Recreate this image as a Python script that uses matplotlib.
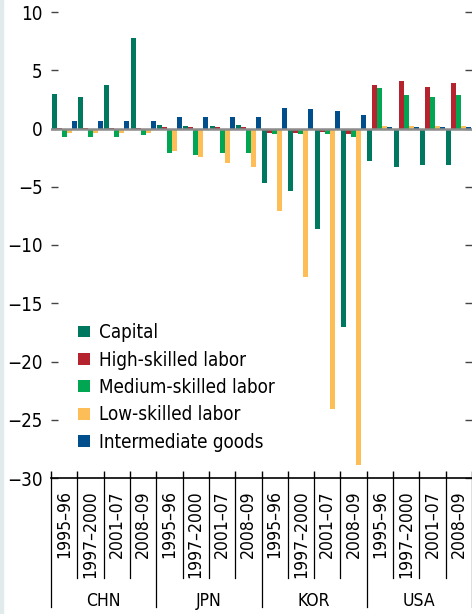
import matplotlib
matplotlib.use('Agg')
import matplotlib.pyplot as plt
import numpy as np
from matplotlib import font_manager as fm
from matplotlib.patches import Rectangle

# pick a narrow sans if one is installed
names = {f.name for f in fm.fontManager.ttflist}
stretches = {(f.name, str(f.stretch)) for f in fm.fontManager.ttflist}
if 'Liberation Sans Narrow' in names:
    fam, stretch, k = 'Liberation Sans Narrow', 'normal', 1.0
elif ('DejaVu Sans', 'condensed') in stretches or ('DejaVu Sans', '300') in stretches:
    fam, stretch, k = 'DejaVu Sans', 'condensed', 0.9
else:
    fam, stretch, k = 'Liberation Sans', 'normal', 0.86
plt.rcParams['font.family'] = [fam, 'DejaVu Sans']
plt.rcParams['font.stretch'] = stretch

countries = ['CHN', 'JPN', 'KOR', 'USA']
periods = ['1995–96', '1997–2000', '2001–07', '2008–09']
series = ['Capital', 'High-skilled labor', 'Medium-skilled labor',
          'Low-skilled labor', 'Intermediate goods']
colors = ['#00775F', '#B5232F', '#00A651', '#FDBE57', '#004F8C']

# values per country, in period order
capital = [3.0, 2.7, 3.7, 7.8,
           0.3, 0.2, 0.2, 0.3,
           -4.7, -5.4, -8.6, -17.0,
           -2.8, -3.3, -3.1, -3.1]
high = [0.05, 0.05, 0.05, 0.05,
        0.1, 0.1, 0.1, 0.1,
        -0.35, -0.35, -0.3, -0.5,
        3.7, 4.1, 3.55, 3.9]
medium = [-0.75, -0.7, -0.7, -0.6,
          -2.1, -2.3, -2.1, -2.1,
          -0.5, -0.5, -0.5, -0.7,
          3.5, 2.85, 2.7, 2.85]
low = [-0.4, -0.4, -0.4, -0.4,
       -1.9, -2.45, -2.95, -3.3,
       -7.05, -12.75, -24.1, -28.9,
       0.2, 0.2, 0.2, 0.2]
intermediate = [0.63, 0.65, 0.65, 0.63,
                1.0, 1.0, 1.0, 1.0,
                1.8, 1.7, 1.5, 1.15,
                0.12, 0.15, 0.15, 0.15]
data = [capital, high, medium, low, intermediate]

fig = plt.figure(figsize=(4.72, 6.14), dpi=100)
fig.patches.append(Rectangle((0, 0), 3 / 472, 1, transform=fig.transFigure,
                             color='#E1EBEB', zorder=0))
ax = fig.add_axes([51 / 472, 136 / 614, 421 / 472, 466 / 614])

n = len(countries) * len(periods)
x = np.arange(n)
w = 0.19
for j, (vals, c, lab) in enumerate(zip(data, colors, series)):
    ax.bar(x + (j - 2) * w, vals, w, color=c, label=lab, zorder=2)

ax.axhline(0, color='#8C8C8C', lw=1.8, zorder=3)

ax.set_xlim(-0.5, n - 0.5)
ax.set_ylim(-30, 10)
ax.set_yticks(np.arange(-30, 11, 5))
ax.set_yticklabels([str(v).replace('-', '−') for v in range(-30, 11, 5)])
ax.tick_params(axis='y', direction='in', length=5, width=1, color='#444444',
               labelsize=15 * k, pad=6, right=True)
for s in ['left', 'right', 'top']:
    ax.spines[s].set_visible(False)
ax.spines['bottom'].set_linewidth(1.2)

# bottom category axis
ax.set_xticks(np.arange(-0.5, n, 1))
ax.set_xticklabels([])
ax.tick_params(axis='x', direction='in', length=5, width=1, color='black')
trans = ax.get_xaxis_transform()
for b in np.arange(-0.5, n, 1):
    low_end = -0.277 if (b + 0.5) % 4 == 0 else -0.2146
    ax.plot([b, b], [0, low_end], color='black', lw=0.9, transform=trans,
            clip_on=False)
for i in range(n):
    ax.text(i, -0.026, periods[i % 4], rotation=90, ha='center', va='top',
            fontsize=14 * k, transform=trans)
for c_i, cn in enumerate(countries):
    ax.text(4 * c_i + 1.5, -0.264, cn, ha='center', va='center',
            fontsize=14 * k, transform=trans)

ax.legend(loc='lower left', bbox_to_anchor=(0.047, 0.04), frameon=False,
          fontsize=15 * k, handlelength=0.6, handleheight=0.6,
          handletextpad=0.5, labelspacing=0.45, borderaxespad=0)

fig.savefig('out.png', dpi=100)
